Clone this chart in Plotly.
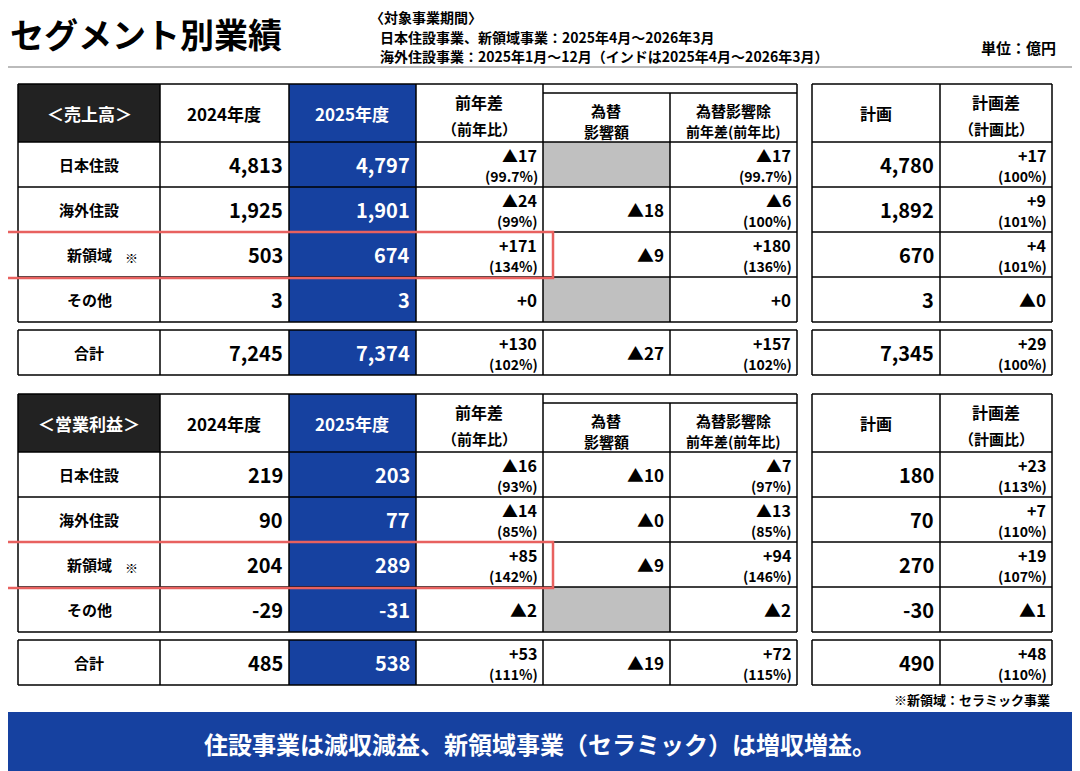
import plotly.graph_objects as go

FONT = "Noto Sans CJK JP"
BLUE = "#1641a0"
segments = ["日本住設", "海外住設", "新領域 ※", "その他", "合計"]

sales_2024 = ["4,813", "1,925", "503", "3", "7,245"]
sales_2025 = ["4,797", "1,901", "674", "3", "7,374"]
sales_diff = ["▲17", "▲24", "+171", "+0", "+130"]
sales_ratio = ["(99.7%)", "(99%)", "(134%)", "", "(102%)"]
sales_fx = [None, "▲18", "▲9", None, "▲27"]
sales_exfx = ["▲17", "▲6", "+180", "+0", "+157"]
sales_exfx_ratio = ["(99.7%)", "(100%)", "(136%)", "", "(102%)"]
sales_plan = ["4,780", "1,892", "670", "3", "7,345"]
sales_pdiff = ["+17", "+9", "+4", "▲0", "+29"]
sales_pratio = ["(100%)", "(101%)", "(101%)", "", "(100%)"]

op_2024 = ["219", "90", "204", "-29", "485"]
op_2025 = ["203", "77", "289", "-31", "538"]
op_diff = ["▲16", "▲14", "+85", "▲2", "+53"]
op_ratio = ["(93%)", "(85%)", "(142%)", "", "(111%)"]
op_fx = ["▲10", "▲0", "▲9", None, "▲19"]
op_exfx = ["▲7", "▲13", "+94", "▲2", "+72"]
op_exfx_ratio = ["(97%)", "(85%)", "(146%)", "", "(115%)"]
op_plan = ["180", "70", "270", "-30", "490"]
op_pdiff = ["+23", "+7", "+19", "▲1", "+48"]
op_pratio = ["(113%)", "(110%)", "(107%)", "", "(110%)"]

cols = [18, 160, 289, 416, 543, 670, 797]
cols2 = [812, 940, 1052]

shapes, anns = [], []

def line(x0, y0, x1, y1, w=1.5, color="black"):
    shapes.append(dict(type="line", x0=x0, x1=x1, y0=y0, y1=y1, xref="x", yref="y", line=dict(color=color, width=w)))

def rect(x0, y0, x1, y1, fill):
    shapes.append(dict(type="rect", x0=x0, y0=y0, x1=x1, y1=y1, xref="x", yref="y",
                       fillcolor=fill, line=dict(width=0), layer="below"))

def text(x, y, s, size=16, color="black", xa="center"):
    anns.append(dict(x=x, y=y, xref="x", yref="y", text=f"<b>{s}</b>", showarrow=False,
                     xanchor=xa, yanchor="middle", font=dict(family=FONT, size=size, color=color)))

def val(xr, ymid, main, sub, size=19, color="black"):
    if sub:
        text(xr - 4, ymid - 10, main, 16, color, xa="right")
        text(xr - 3, ymid + 11, sub, 14, color, xa="right")
    else:
        text(xr - 4, ymid, main, size, color, xa="right")

def table(top, title, d24, d25, diff, ratio, fx, exfx, exr, plan, pd, pr):
    hb = top + 58
    rows = [hb + 45 * i for i in range(5)]
    tot0 = rows[4] + 8
    tot1 = tot0 + 45
    rect(cols[0], top, cols[1], hb, "#222222")
    rect(cols[2], top, cols[3], rows[4], BLUE)
    rect(cols[2], tot0, cols[3], tot1, BLUE)
    for i in range(5):
        if fx[i] is None:
            r0, r1 = (rows[i], rows[i + 1]) if i < 4 else (tot0, tot1)
            rect(cols[4], r0, cols[5], r1, "#c0c0c0")
    for x in cols:
        line(x, top + 9 if x == 670 else top, x, rows[4])
        line(x, tot0, x, tot1)
    for y in [top, hb] + rows[1:] + [tot0, tot1]:
        line(cols[0], y, cols[-1], y)
    line(cols[4], top + 9, cols[6], top + 9)
    for x in cols2:
        line(x, top, x, rows[4])
        line(x, tot0, x, tot1)
    for y in [top, hb] + rows[1:] + [tot0, tot1]:
        line(cols2[0], y, cols2[-1], y)
    hm = (top + hb) / 2
    text(89, hm, title, 17, "white")
    text(224, hm, "2024年度", 17)
    text(352, hm, "2025年度", 17, "white")
    text(479, hm - 11, "前年差", 16); text(479, hm + 15, "（前年比）", 15)
    text(606, hm - 3, "為替", 15); text(606, hm + 18, "影響額", 15)
    text(733, hm - 3, "為替影響除", 15); text(733, hm + 18, "前年差(前年比)", 14)
    text(876, hm, "計画", 16)
    text(996, hm - 11, "計画差", 16); text(996, hm + 15, "（計画比）", 15)
    for i in range(5):
        r0, r1 = (rows[i], rows[i + 1]) if i < 4 else (tot0, tot1)
        ym = (r0 + r1) / 2
        name = segments[i]
        if "※" in name:
            text(89, ym, "新領域", 15)
            text(131, ym + 3, "※", 13)
        else:
            text(89, ym, name, 15)
        val(cols[2], ym, d24[i], "", 20)
        val(cols[3], ym, d25[i], "", 20, "white")
        val(cols[4], ym, diff[i], ratio[i], 17)
        if fx[i] is not None:
            val(cols[5], ym, fx[i], "", 17)
        val(cols[6], ym, exfx[i], exr[i], 17)
        val(cols2[1], ym, plan[i], "", 20)
        val(cols2[2], ym, pd[i], pr[i], 17)
    shapes.append(dict(type="rect", x0=5, x1=553, y0=rows[2], y1=rows[3] + 1, xref="x", yref="y",
                       line=dict(color="#e8615f", width=2.5)))

table(84, "＜売上高＞", sales_2024, sales_2025, sales_diff, sales_ratio, sales_fx, sales_exfx, sales_exfx_ratio, sales_plan, sales_pdiff, sales_pratio)
table(394, "＜営業利益＞", op_2024, op_2025, op_diff, op_ratio, op_fx, op_exfx, op_exfx_ratio, op_plan, op_pdiff, op_pratio)

text(8, 33, "セグメント別業績", 34, xa="left")
text(368, 17, "〈対象事業期間〉", 14, xa="left")
text(378, 37, "日本住設事業、新領域事業：2025年4月～2026年3月", 14, xa="left")
text(378, 56, "海外住設事業：2025年1月～12月（インドは2025年4月～2026年3月）", 14, xa="left")
text(1058, 47, "単位：億円", 15, xa="right")
line(0, 67, 1090, 67, 2, "#bbbbbb")
text(1052, 699, "※新領域：セラミック事業", 13, xa="right")
rect(-10, 712, 1100, 790, BLUE)
text(540, 743, "住設事業は減収減益、新領域事業（セラミック）は増収増益。", 24, "white")

fig = go.Figure()
fig.update_layout(width=1080, height=771, margin=dict(l=0, r=0, t=0, b=0),
                  plot_bgcolor="white", paper_bgcolor="white", shapes=shapes, annotations=anns,
                  xaxis=dict(range=[8, 1088], visible=False, fixedrange=True),
                  yaxis=dict(range=[779, 8], visible=False, fixedrange=True), showlegend=False)
fig.write_html("out.html")
